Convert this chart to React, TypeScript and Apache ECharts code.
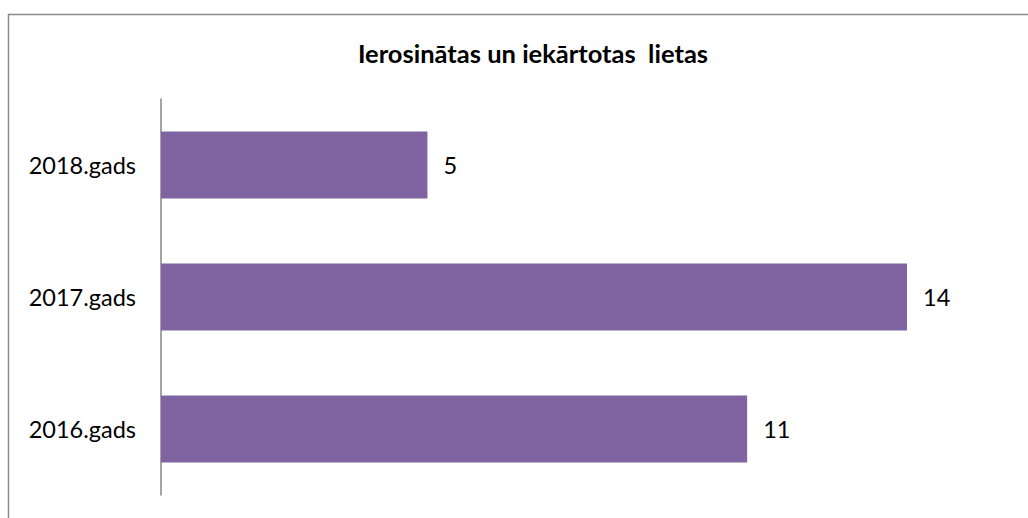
import React, { useEffect, useRef } from "react";
import * as echarts from "echarts";

const categories = ["2016.gads", "2017.gads", "2018.gads"];
const values = [11, 14, 5];
const titleText = "Ierosinātas un iekārtotas  lietas";

export default function App() {
  const ref = useRef<HTMLDivElement>(null);
  useEffect(() => {
    if (!ref.current) return;
    const chart = echarts.init(ref.current, null, { renderer: "svg" });
    chart.setOption({
      animation: false,
      backgroundColor: "#ffffff",
      title: {
        text: titleText,
        left: 528,
        textAlign: "center",
        top: 35,
        textStyle: { fontFamily: "Lato", fontWeight: "bold", fontSize: 25.5, color: "#000" },
      },
      graphic: [
        { type: "line", shape: { x1: 8.5, y1: 14, x2: 8.5, y2: 518 }, style: { stroke: "#8a8a8a", lineWidth: 1.5 } },
        { type: "line", shape: { x1: 8, y1: 14.5, x2: 1028, y2: 14.5 }, style: { stroke: "#8a8a8a", lineWidth: 1.5 } },
      ],
      grid: { left: 161, top: 99, height: 396, right: 14.4 },
      xAxis: {
        type: "value",
        min: 0,
        max: 16,
        show: false,
        splitLine: { show: false },
      },
      yAxis: {
        type: "category",
        data: categories,
        axisLine: { show: true, lineStyle: { color: "#868686", width: 1.5 } },
        axisTick: { show: false },
        axisLabel: { margin: 25, fontFamily: "Lato", fontSize: 23.5, color: "#000" },
      },
      series: [
        {
          type: "bar",
          data: values,
          barWidth: 67,
          itemStyle: { color: "#8064a2" },
          label: {
            show: true,
            position: "right",
            distance: 16,
            fontFamily: "Lato",
            fontSize: 23.5,
            color: "#000",
          },
        },
      ],
    });
    return () => chart.dispose();
  }, []);
  return <div ref={ref} style={{ position: "fixed", left: 0, top: 0, width: 1028, height: 518 }} />;
}
